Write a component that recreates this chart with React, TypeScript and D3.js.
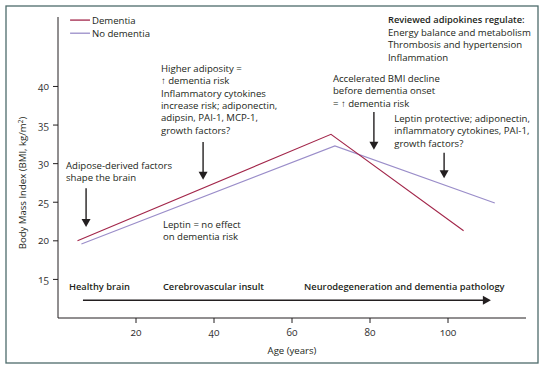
import React from 'react';
import * as d3 from 'd3';

// series (age in years, BMI kg/m2)
const dementiaAge = [5, 70, 104];
const dementiaBmi = [20, 33.8, 21.3];
const noDementiaAge = [6, 71, 112];
const noDementiaBmi = [19.6, 32.3, 24.9];

const xTicks = [20, 40, 60, 80, 100];
const yTicks = [15, 20, 25, 30, 35, 40];

// annotation blocks: [age, bmi] of first baseline
const notes = [
  { age: 2.05, bmi: 29.3, lines: ['Adipose-derived factors', 'shape the brain'] },
  { age: 26.4, bmi: 41.9, lines: ['Higher adiposity =', '\u2191 dementia risk', 'Inflammatory cytokines', 'increase risk; adiponectin,', 'adipsin, PAI-1, MCP-1,', 'growth factors?'] },
  { age: 26.9, bmi: 21.66, lines: ['Leptin = no effect', 'on dementia risk'] },
  { age: 70.5, bmi: 40.6, lines: ['Accelerated BMI decline', 'before dementia onset', '= \u2191 dementia risk'] },
  { age: 86.2, bmi: 35.4, lines: ['Leptin protective; adiponectin,', 'inflammatory cytokines, PAI-1,', 'growth factors?'] },
];
const reviewedTitle = 'Reviewed adipokines regulate:';
const reviewedItems = ['Energy balance and metabolism', 'Thrombosis and hypertension', 'Inflammation'];

// arrows: age, bmi from -> bmi to
const arrows = [
  { age: 7.2, from: 26.8, to: 21.8 },
  { age: 37.2, from: 32.8, to: 27.9 },
  { age: 81, from: 36.7, to: 31.8 },
  { age: 99, from: 31.4, to: 28.1 },
];

const phases = [
  { age: 2.8, label: 'Healthy brain' },
  { age: 26.9, label: 'Cerebrovascular insult' },
  { age: 63.1, label: 'Neurodegeneration and dementia pathology' },
];
const phaseBmi = 13.6;
const timeline = { start: 6.4, end: 111, bmi: 12.3 };

const W = 547, H = 372;
const DEM = '#a2264a';
const NODEM = '#9a8dc9';
const INK = '#231f20';
const FONT = '"Open Sans", "Noto Sans", sans-serif';
const FS = 9.6;

export default function App() {
  const x = d3.scaleLinear().domain([0, 120]).range([58, 526]);
  const y = d3.scaleLinear().domain([10, 49]).range([318, 17]);
  const line = d3.line<[number, number]>().x(d => x(d[0])).y(d => y(d[1]));
  const dem = dementiaAge.map((a, i) => [a, dementiaBmi[i]] as [number, number]);
  const nodem = noDementiaAge.map((a, i) => [a, noDementiaBmi[i]] as [number, number]);

  const head = (px: number, py: number, w = 4.5, h = 8) =>
    `M${px},${py} L${px - w},${py - h} L${px + w},${py - h} Z`;

  return (
    <svg width={W} height={H} style={{ position: 'absolute', left: 0, top: 0, background: '#fff' }}
      fontFamily={FONT} fontSize={FS} fill={INK}>
      <rect x={6} y={6} width={532} height={357} fill="none" stroke="#4d6b6b" strokeWidth={1.3} />

      {/* axes */}
      <line x1={x(0)} x2={x(0)} y1={y(49)} y2={y(10)} stroke={INK} strokeWidth={1} />
      <line x1={x(0)} x2={x(120)} y1={y(10)} y2={y(10)} stroke={INK} strokeWidth={1} />
      {yTicks.map(t => (
        <g key={t}>
          <line x1={x(0) - 5} x2={x(0)} y1={y(t)} y2={y(t)} stroke={INK} />
          <text x={x(0) - 9} y={y(t) + 3.5} textAnchor="end" fontSize={10} fill="#333"
            style={{ fontVariantNumeric: 'oldstyle-nums' }}>{t}</text>
        </g>
      ))}
      {xTicks.map(t => (
        <g key={t}>
          <line x1={x(t)} x2={x(t)} y1={y(10)} y2={y(10) + 5} stroke={INK} />
          <text x={x(t)} y={y(10) + 18} textAnchor="middle" fontSize={10} fill="#333"
            style={{ fontVariantNumeric: 'oldstyle-nums' }}>{t}</text>
        </g>
      ))}
      <text x={x(60)} y={354} textAnchor="middle" fontSize={FS}>Age (years)</text>
      <text transform={`translate(26,183) rotate(-90)`} textAnchor="middle" fontSize={FS}>
        Body Mass Index (BMI, kg/m<tspan dy={-3} fontSize={6.5}>2</tspan><tspan dy={3}>)</tspan>
      </text>

      {/* series */}
      <path d={line(nodem) || ''} fill="none" stroke={NODEM} strokeWidth={1.1} />
      <path d={line(dem) || ''} fill="none" stroke={DEM} strokeWidth={1.1} />

      {/* legend */}
      <line x1={x(3.1)} x2={x(8.2)} y1={y(48.6)} y2={y(48.6)} stroke={DEM} strokeWidth={1.3} />
      <text x={x(8.7)} y={y(48.6) + 3.5}>Dementia</text>
      <line x1={x(3.1)} x2={x(8.2)} y1={y(46.9)} y2={y(46.9)} stroke={NODEM} strokeWidth={1.3} />
      <text x={x(8.7)} y={y(46.9) + 3.5}>No dementia</text>

      {/* annotations */}
      {notes.map((n, i) => (
        <text key={i} x={x(n.age)} y={y(n.bmi)}>
          {n.lines.map((l, j) => (
            <tspan key={j} x={x(n.age)} dy={j === 0 ? 0 : 12.4}>{l}</tspan>
          ))}
        </text>
      ))}
      <text x={x(84.6)} y={y(48.2)}>
        <tspan fontWeight={600} fontSize={9.3}>{reviewedTitle}</tspan>
        {reviewedItems.map((l, j) => (
          <tspan key={j} x={x(84.6)} dy={12.6}>{l}</tspan>
        ))}
      </text>

      {arrows.map((a, i) => (
        <g key={i}>
          <line x1={x(a.age)} x2={x(a.age)} y1={y(a.from)} y2={y(a.to) - 6} stroke={INK} strokeWidth={1.4} />
          <path d={head(x(a.age), y(a.to))} fill={INK} />
        </g>
      ))}

      {/* phases */}
      {phases.map(p => (
        <text key={p.label} x={x(p.age)} y={y(phaseBmi)} fontWeight={600} fontSize={9.3}>{p.label}</text>
      ))}
      <line x1={x(timeline.start)} x2={x(timeline.end) - 6} y1={y(timeline.bmi)} y2={y(timeline.bmi)}
        stroke={INK} strokeWidth={1.5} />
      <path d={`M${x(timeline.end)},${y(timeline.bmi)} L${x(timeline.end) - 8},${y(timeline.bmi) - 4.5} L${x(timeline.end) - 8},${y(timeline.bmi) + 4.5} Z`} fill={INK} />
    </svg>
  );
}
